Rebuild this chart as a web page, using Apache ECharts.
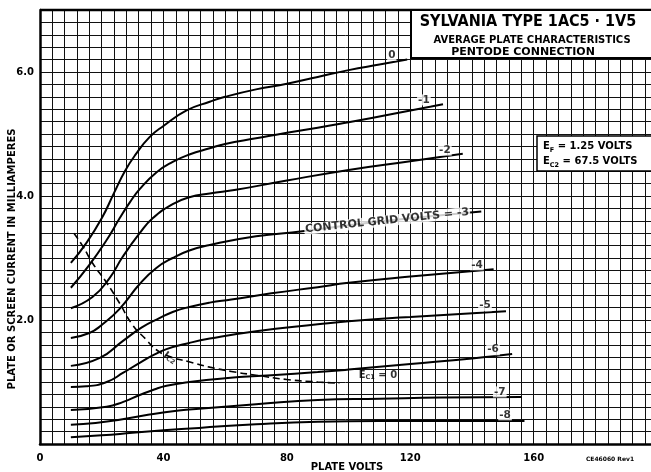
<!DOCTYPE html>
<html>
<head>
<meta charset="utf-8">
<title>Sylvania 1AC5 plate characteristics</title>
<script src="https://cdn.jsdelivr.net/npm/echarts@6/dist/echarts.min.js"></script>
<style>
  html, body { margin: 0; padding: 0; background: #fff; }
  #chart { width: 651px; height: 472px; }
</style>
</head>
<body>
<div id="chart"></div>
<script>
(function () {
  'use strict';

  // plate volts / milliamperes
  var grid0 = [[10, 2.92], [15, 3.24], [20, 3.64], [24, 4.05], [27.5, 4.4], [31, 4.67], [35.5, 4.95], [40, 5.13], [47.5, 5.38], [55, 5.52], [60, 5.6], [70, 5.72], [80, 5.81], [90, 5.92], [100, 6.03], [110, 6.12], [119, 6.2]];
  var grid1 = [[10, 2.52], [16, 2.89], [21.6, 3.29], [25.8, 3.64], [29, 3.89], [32.3, 4.11], [37.7, 4.38], [43, 4.55], [48.4, 4.67], [55, 4.77], [60, 4.84], [70, 4.93], [80, 5.02], [90, 5.1], [100, 5.19], [115, 5.33], [130.6, 5.48]];
  var grid2 = [[10, 2.19], [17, 2.37], [22.6, 2.68], [26.8, 3.02], [32.3, 3.4], [36.5, 3.64], [43, 3.87], [48.4, 3.98], [55, 4.04], [63.5, 4.1], [80, 4.25], [100, 4.42], [120, 4.56], [137, 4.68]];
  var grid3 = [[10, 1.71], [16, 1.79], [20, 1.92], [25.8, 2.18], [32.3, 2.58], [37.7, 2.84], [43, 3.0], [48.4, 3.12], [55, 3.21], [70, 3.35], [85, 3.43], [100, 3.53], [120, 3.64], [143, 3.75]];
  var grid4 = [[10, 1.26], [19.4, 1.39], [26.8, 1.66], [33, 1.88], [38.7, 2.03], [43, 2.13], [48.4, 2.21], [55, 2.28], [62, 2.33], [75, 2.43], [90, 2.53], [100, 2.6], [120, 2.7], [147, 2.82]];
  var grid5 = [[10, 0.92], [15, 0.93], [21.6, 1.0], [27, 1.15], [32.3, 1.31], [37, 1.44], [41, 1.53], [48.4, 1.63], [55, 1.7], [70, 1.82], [90, 1.93], [100, 1.98], [120, 2.05], [151, 2.14]];
  var grid6 = [[10, 0.55], [21.6, 0.6], [27, 0.68], [32.3, 0.79], [37, 0.88], [41, 0.94], [48.4, 1.0], [60, 1.06], [75, 1.11], [90, 1.16], [100, 1.2], [120, 1.29], [140, 1.38], [153, 1.45]];
  var grid7 = [[10, 0.31], [18, 0.34], [25.8, 0.39], [35, 0.47], [45, 0.54], [51.6, 0.57], [70, 0.64], [90, 0.71], [110, 0.73], [130, 0.75], [156, 0.76]];
  var grid8 = [[10, 0.11], [20, 0.14], [30, 0.18], [40, 0.22], [51.6, 0.26], [70, 0.32], [90, 0.36], [110, 0.37], [130, 0.37], [157, 0.37]];

  // screen current at Ec1 = 0 (dashed)
  var screen = [[11, 3.4], [14, 3.18], [17, 2.92], [21.6, 2.6], [25.8, 2.27], [30, 1.92], [34.5, 1.68], [37.7, 1.52], [42, 1.41], [48, 1.33], [55, 1.24], [62, 1.17], [70, 1.11], [80, 1.04], [90, 1.0], [97, 0.98]];

  var curves = [grid0, grid1, grid2, grid3, grid4, grid5, grid6, grid7, grid8];

  // curve labels: [volts, mA, text, rotation]
  var curveLabels = [
    [114, 6.27, '0', 0],
    [124.4, 5.55, '-1', 0],
    [131.2, 4.74, '-2', 0],
    [112.5, 3.6, 'CONTROL GRID VOLTS = -3', 6],
    [141.6, 2.89, '-4', 0],
    [144.2, 2.23, '-5', 0],
    [146.8, 1.52, '-6', 0],
    [149, 0.84, '-7', 0],
    [150.7, 0.47, '-8', 0]
  ];
  var screenLabels = [
    [42.1, 1.39, '{n|I}{s|C2}', -35],
    [109.5, 1.1, '{n|E}{s|C1}{n| = 0}', 0]
  ];

  var xTicks = [0, 40, 80, 120, 160];
  var yTicks = [2, 4, 6];

  var font = 'DejaVu Sans';

  var series = [];
  for (var i = 0; i < curves.length; i++) {
    series.push({
      type: 'line',
      data: curves[i],
      smooth: 0.5,
      symbol: 'none',
      silent: true,
      lineStyle: { color: '#000', width: 2 },
      z: 5
    });
  }
  series.push({
    type: 'line',
    data: screen,
    smooth: 0.5,
    symbol: 'none',
    silent: true,
    lineStyle: { color: '#000', width: 1.6, type: [7, 4] },
    z: 5
  });

  function labelSeries(rows, rich) {
    return {
      type: 'scatter',
      symbolSize: 1,
      itemStyle: { color: 'rgba(0,0,0,0)' },
      silent: true,
      z: 8,
      labelLayout: { hideOverlap: false },
      data: rows.map(function (r) {
        return {
          value: [r[0], r[1]],
          label: {
            show: true,
            position: 'inside',
            formatter: r[2],
            rotate: r[3],
            color: '#000',
            fontFamily: font,
            fontWeight: 'bold',
            fontSize: r[2].length > 4 ? 11 : 10.5,
            backgroundColor: rich ? null : '#fff',
            padding: [0, 1],
            rich: rich
          }
        };
      })
    };
  }
  series.push(labelSeries(curveLabels, null));
  series.push(labelSeries(screenLabels, {
    n: { fontFamily: font, fontWeight: 'bold', fontSize: 10, color: '#000' },
    s: { fontFamily: font, fontWeight: 'bold', fontSize: 6.5, color: '#000', verticalAlign: 'bottom', padding: [4, 0, 0, 0] }
  }));

  var option = {
    animation: false,
    backgroundColor: '#fff',
    grid: { left: 40, right: 0, top: 10, bottom: 28, show: false },
    xAxis: {
      type: 'value',
      min: 0,
      max: 198,
      interval: 4,
      axisLine: { show: true, lineStyle: { color: '#000', width: 2.5 } },
      axisTick: { show: false },
      axisLabel: {
        color: '#000',
        fontFamily: font,
        fontWeight: 'bold',
        fontSize: 10,
        margin: 9,
        showMaxLabel: false,
        formatter: function (v) {
          return xTicks.indexOf(Math.round(v)) >= 0 ? String(Math.round(v)) : '';
        }
      },
      splitLine: { show: true, lineStyle: { color: '#111', width: 1 } }
    },
    yAxis: {
      type: 'value',
      min: 0,
      max: 7,
      interval: 0.2,
      axisLine: { show: true, lineStyle: { color: '#000', width: 2.5 } },
      axisTick: { show: false },
      axisLabel: {
        color: '#000',
        fontFamily: font,
        fontWeight: 'bold',
        fontSize: 10,
        margin: 6,
        formatter: function (v) {
          var r = Math.round(v * 10) / 10;
          return yTicks.indexOf(r) >= 0 ? r.toFixed(1) : '';
        }
      },
      splitLine: { show: true, lineStyle: { color: '#111', width: 1 } }
    },
    graphic: [
      // top frame line
      { type: 'line', z: 20, shape: { x1: 40, y1: 10, x2: 651, y2: 10 }, style: { stroke: '#000', lineWidth: 2.5 } },
      // title box
      { type: 'rect', z: 20, shape: { x: 411, y: 10, width: 245, height: 48 }, style: { fill: '#fff', stroke: '#000', lineWidth: 2 } },
      { type: 'text', z: 21, x: 528, y: 22, style: { text: 'SYLVANIA TYPE 1AC5 · 1V5', fill: '#000', font: 'bold 16px "DejaVu Sans Condensed", "DejaVu Sans"', align: 'center', verticalAlign: 'middle' } },
      { type: 'text', z: 21, x: 532, y: 40, style: { text: 'AVERAGE PLATE CHARACTERISTICS', fill: '#000', font: 'bold 10px "DejaVu Sans"', align: 'center', verticalAlign: 'middle' } },
      { type: 'text', z: 21, x: 523, y: 52, style: { text: 'PENTODE CONNECTION', fill: '#000', font: 'bold 11px "DejaVu Sans"', align: 'center', verticalAlign: 'middle' } },
      // operating conditions box
      { type: 'rect', z: 20, shape: { x: 537, y: 136, width: 118, height: 35 }, style: { fill: '#fff', stroke: '#000', lineWidth: 1.5 } },
      {
        type: 'text', z: 21, left: 543, top: 139,
        style: {
          text: '{n|E}{s|F}{n| = 1.25 VOLTS}\n{n|E}{s|C2}{n| = 67.5 VOLTS}',
          lineHeight: 15,
          rich: {
            n: { font: 'bold 10px "DejaVu Sans"', fill: '#000' },
            s: { font: 'bold 6.5px "DejaVu Sans"', fill: '#000', verticalAlign: 'bottom' }
          }
        }
      },
      // axis titles
      {
        type: 'text', z: 21, x: 12, y: 259, rotation: Math.PI / 2,
        style: { text: 'PLATE OR SCREEN CURRENT IN MILLIAMPERES', fill: '#000', font: 'bold 10px "DejaVu Sans"', align: 'center', verticalAlign: 'middle' }
      },
      {
        type: 'text', z: 21, x: 347, y: 467,
        style: { text: 'PLATE VOLTS', fill: '#000', font: 'bold 10px "DejaVu Sans"', align: 'center', verticalAlign: 'middle' }
      },
      {
        type: 'text', z: 21, x: 610, y: 459,
        style: { text: 'CE46060 Rev1', fill: '#000', font: 'bold 6px "DejaVu Sans"', align: 'center', verticalAlign: 'middle' }
      }
    ],
    series: series
  };

  var myChart = echarts.init(document.getElementById('chart'));
  myChart.setOption(option);
}());
</script>
</body>
</html>
